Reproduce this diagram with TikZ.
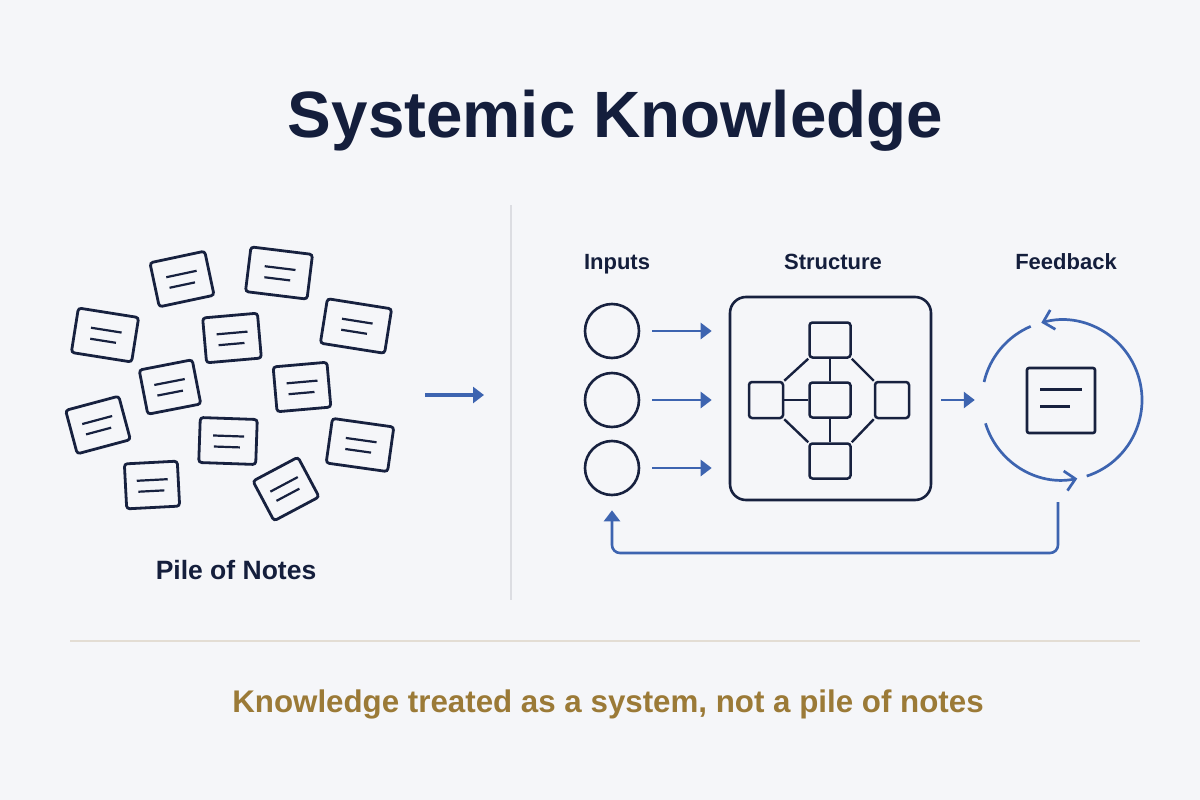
\documentclass[tikz,border=0pt]{standalone}
\usepackage{fontspec}
\setmainfont{Liberation Sans}
\usetikzlibrary{arrows.meta}
\definecolor{navy}{HTML}{141E3C}
\definecolor{ink}{HTML}{17213F}
\definecolor{blu}{HTML}{3D64B0}
\definecolor{gold}{HTML}{9B7A37}
\definecolor{bg}{HTML}{F5F6F9}
\definecolor{divc}{HTML}{DCDDE2}
\definecolor{rulec}{HTML}{E3DDD4}
\tikzset{
  notebox/.style={draw=ink,line width=2.8pt,rounded corners=3pt,minimum height=45pt,inner sep=0pt,fill=bg},
  noteline/.style={draw=ink,line width=2.2pt},
  sbox/.style={draw=ink,line width=2.5pt,rounded corners=3pt,inner sep=0pt,fill=bg},
  slink/.style={draw=ink,line width=2.4pt},
  incirc/.style={draw=ink,line width=2.6pt,circle,minimum size=54pt,inner sep=0pt},
  bluarrow/.style={draw=blu,line width=2.6pt,-{Triangle[length=11pt,width=16pt]}},
  cyc/.style={draw=blu,line width=2.7pt},
  lbl/.style={text=navy,font=\fontsize{22}{26}\selectfont\bfseries,anchor=base},
}
\newcommand\pilenote[5]{%
  \begin{scope}[shift={(#2,#3)},rotate=#4]
    \node[notebox,minimum width=#5pt,transform shape] (#1) at (0,0) {};
    \draw[noteline] (-15,-5) -- (16,-5);
    \draw[noteline] (-14,6) -- (12,6);
  \end{scope}}
\begin{document}
\begin{tikzpicture}[x=1pt,y=-1pt]
\fill[bg] (0,0) rectangle (1200,800);
\useasboundingbox (0,0) rectangle (1200,800);
% title
\node[text=navy,font=\fontsize{65.5}{78}\selectfont\bfseries,anchor=base] (title) at (615.5,137) {Systemic Knowledge};
% divider
\draw[divc,line width=1.5pt] (511,205) -- (511,600);
% pile of notes
\pilenote{n1}{182}{279}{12}{56}
\pilenote{n2}{279}{273}{-7}{62}
\pilenote{n3}{105}{335}{-9}{61}
\pilenote{n4}{232}{338}{5}{55}
\pilenote{n5}{356}{326}{-9}{65}
\pilenote{n6}{170}{387}{11}{54}
\pilenote{n7}{302}{387}{5}{54}
\pilenote{n8}{98}{425}{15}{55}
\pilenote{n9}{228}{441}{-2}{57}
\pilenote{n10}{360}{445}{-8}{62}
\pilenote{n11}{152}{485}{3}{53}
\pilenote{n12}{286}{489}{28}{51}
\node[text=navy,font=\fontsize{26.5}{30}\selectfont\bfseries,anchor=base] (pile) at (236,579) {Pile of Notes};
% middle arrow
\coordinate (pa) at (425,395);
\coordinate (pb) at (484,395);
\draw[bluarrow,line width=3.2pt] (pa) -- (pb);
% labels
\node[lbl] (linp) at (617,269) {Inputs};
\node[lbl] (lstr) at (833,269) {Structure};
\node[lbl] (lfb) at (1066,269) {Feedback};
% inputs
\node[incirc] (in1) at (612,331) {};
\node[incirc] (in2) at (612,400) {};
\node[incirc] (in3) at (612,468) {};
% structure
\node[draw=ink,line width=2.6pt,rounded corners=16pt,minimum width=201pt,minimum height=203pt,inner sep=0pt] (sb) at (830.5,398.5) {};
\node[sbox,minimum width=41pt,minimum height=35pt] (st) at (830,340) {};
\node[sbox,minimum width=34pt,minimum height=36pt] (sl) at (766,400) {};
\node[sbox,minimum width=41pt,minimum height=35pt] (sc) at (830,400) {};
\node[sbox,minimum width=34pt,minimum height=36pt] (sr) at (892,400) {};
\node[sbox,minimum width=41pt,minimum height=35pt] (sbt) at (830,461) {};
\draw[slink] (st.south west) -- (sl.north east);
\draw[slink] (st.south east) -- (sr.north west);
\draw[slink] (sl.south east) -- (sbt.north west);
\draw[slink] (sr.south west) -- (sbt.north east);
\draw[slink] (st.south) -- (sc.north);
\draw[slink] (sc.south) -- (sbt.north);
\draw[slink] (sl.east) -- (sc.west);
% input arrows
\foreach \i in {1,2,3}{
  \draw[bluarrow,shorten <=12pt,shorten >=17pt] (in\i.east) -- (in\i.east -| sb.west);
}
% feedback
\node[circle,minimum size=160pt,inner sep=0pt] (fb) at (1062,400) {};
\draw[bluarrow,shorten <=9pt,shorten >=7pt] (sb.east |- fb.west) -- (fb.west);
\begin{scope}[shift={(1062,400)},yscale=-1]
  \draw[cyc,-{Straight Barb[length=10pt,width=20pt]}] (197:80) arc (197:281:80);
  \draw[cyc,-{Straight Barb[length=10pt,width=20pt]}] (288:80) arc (288:465:80);
  \draw[cyc] (113:80) arc (113:167:80);
\end{scope}
\node[draw=ink,line width=2.6pt,rounded corners=2pt,minimum width=68pt,minimum height=65pt,inner sep=0pt] (fnote) at (1061,400.5) {};
\draw[noteline] ([shift={(-21,-11)}]fnote.center) -- ([shift={(21,-11)}]fnote.center);
\draw[noteline] ([shift={(-21,6)}]fnote.center) -- ([shift={(9,6)}]fnote.center);
% feedback loop
\coordinate (lp) at (1058,502);
\draw[bluarrow,rounded corners=8pt,shorten >=14pt] (lp) -- (1058,553) -- (in3.south |- 0,553) -- (in3.south);
% rule and caption
\draw[rulec,line width=1.5pt] (70,641) -- (1140,641);
\node[text=gold,font=\fontsize{31.3}{36}\selectfont\bfseries,anchor=base] (cap) at (608,712) {Knowledge treated as a system, not a pile of notes};
\end{tikzpicture}
\end{document}
